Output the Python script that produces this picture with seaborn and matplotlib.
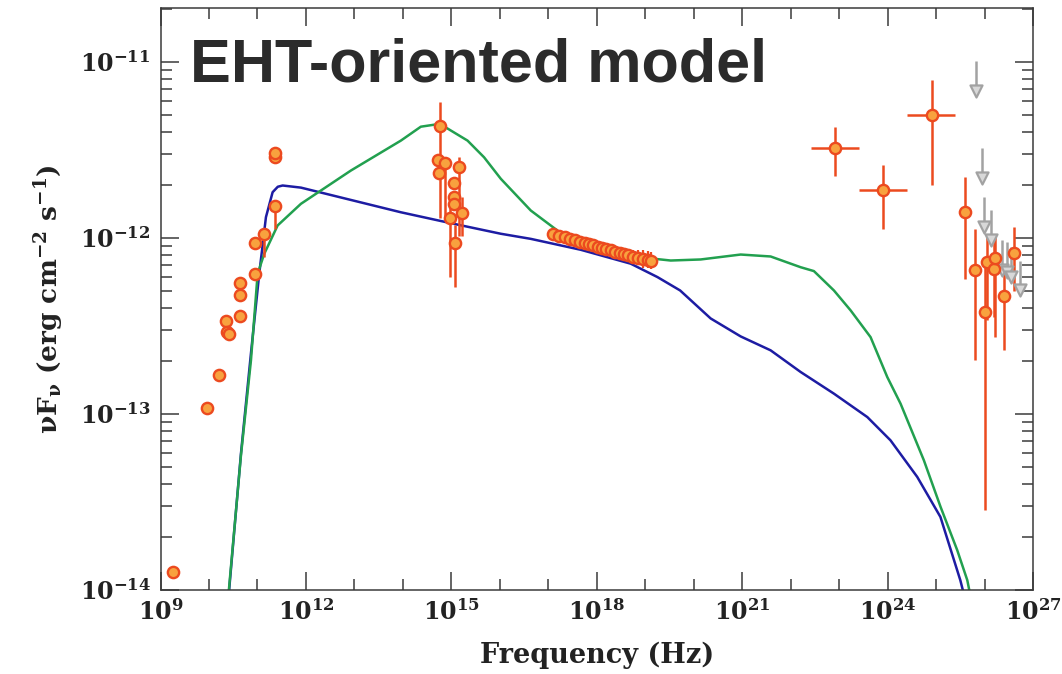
import numpy as np
import pandas as pd
import matplotlib
matplotlib.use("Agg")
import matplotlib.pyplot as plt
from matplotlib.ticker import FixedLocator, FuncFormatter, NullFormatter
import seaborn as sns

# ---- model curves (log10 nu [Hz], log10 nuFnu [erg cm^-2 s^-1]) ----
blue_lognu = [10.398, 10.660, 10.866, 11.037, 11.175, 11.313, 11.420, 11.520, 11.897, 13.959,
              14.990, 16.021, 16.639, 17.670, 18.701, 19.252, 19.72, 20.35, 20.969,
              21.587, 22.206, 22.893, 23.582, 24.06, 24.612, 25.09, 25.50, 25.71]
blue_logf = [-14.057, -13.225, -12.656, -12.204, -11.883, -11.741, -11.710, -11.703, -11.715, -11.855,
             -11.917, -11.977, -12.006, -12.068, -12.147, -12.223, -12.299, -12.458, -12.56,
             -12.639, -12.762, -12.885, -13.018, -13.150, -13.358, -13.585, -13.944, -14.17]

green_lognu = [10.392, 10.660, 10.866, 11.004, 11.140, 11.416, 11.897, 12.928, 13.959, 14.371,
               14.763, 15.334, 15.676, 16.021, 16.639, 17.326, 18.357, 19.113, 19.526, 20.144,
               20.969, 21.587, 22.206, 22.480, 22.893, 23.237, 23.649, 23.994, 24.268, 24.748,
               25.093, 25.437, 25.644, 25.81]
green_logf = [-14.057, -13.235, -12.696, -12.204, -12.091, -11.930, -11.807, -11.618, -11.448, -11.369,
              -11.353, -11.448, -11.543, -11.665, -11.845, -11.987, -12.082, -12.117, -12.129, -12.123,
              -12.095, -12.106, -12.167, -12.189, -12.299, -12.412, -12.564, -12.791, -12.942, -13.263,
              -13.528, -13.774, -13.944, -14.17]

# ---- radio / mm data ----
radio_lognu = [9.25, 9.95, 10.20, 10.36, 10.37, 10.41, 10.645, 10.645, 10.645, 10.95, 10.95, 11.14, 11.36, 11.36, 11.37]
radio_logf = [-13.90, -12.964, -12.777, -12.473, -12.537, -12.545, -12.255, -12.327, -12.445, -12.204, -12.028, -11.977, -11.82, -11.54, -11.52]
radio_lo = [-13.90, -12.964, -12.777, -12.473, -12.537, -12.545, -12.255, -12.327, -12.445, -12.204, -12.028, -12.11, -11.95, -11.54, -11.52]
radio_hi = [-13.90, -12.964, -12.777, -12.473, -12.537, -12.545, -12.255, -12.327, -12.445, -12.204, -12.028, -11.977, -11.82, -11.54, -11.52]

# ---- optical / UV data ----
opt_lognu = [14.763, 14.73, 14.87, 14.74, 15.16, 15.06, 15.06, 15.06, 15.21, 14.97, 15.08]
opt_logf = [-11.363, -11.556, -11.575, -11.63, -11.596, -11.69, -11.766, -11.807, -11.86, -11.887, -12.03]
opt_lo = [-11.885, -11.556, -11.885, -11.63, -11.99, -11.69, -11.766, -11.807, -11.99, -12.225, -12.282]
opt_hi = [-11.23, -11.556, -11.575, -11.63, -11.54, -11.69, -11.766, -11.807, -11.77, -11.83, -11.93]

# ---- X-ray spectrum ----
xray_lognu = [17.09, 17.22, 17.34, 17.45, 17.55, 17.65, 17.75, 17.84, 17.93, 18.02, 18.11,
              18.20, 18.29, 18.38, 18.47, 18.56, 18.65, 18.75, 18.85, 18.95, 19.05, 19.11]
xray_logf = [-11.977, -11.990, -11.996, -12.006, -12.012, -12.022, -12.027, -12.037, -12.042, -12.051, -12.056,
             -12.065, -12.070, -12.079, -12.084, -12.093, -12.098, -12.107, -12.112, -12.120, -12.124, -12.129]
xray_err = [0.0, 0.0, 0.0, 0.0, 0.0, 0.0, 0.0, 0.0, 0.0, 0.0, 0.0,
            0.0, 0.0, 0.0, 0.02, 0.03, 0.035, 0.04, 0.045, 0.05, 0.05, 0.05]

# ---- gamma-ray data with energy bins ----
gev_lognu = [22.907, 23.91, 24.907]
gev_logf = [-11.49, -11.728, -11.302]
gev_nu_lo = [22.41, 23.42, 24.406]
gev_nu_hi = [23.42, 24.406, 25.40]
gev_lo = [-11.647, -11.949, -11.698]
gev_hi = [-11.373, -11.584, -11.102]

# ---- TeV data ----
tev_lognu = [25.60, 25.81, 26.007, 26.06, 26.19, 26.21, 26.41, 26.61]
tev_logf = [-11.855, -12.18, -12.42, -12.138, -12.176, -12.116, -12.331, -12.087]
tev_lo = [-12.233, -12.696, -13.547, -12.469, -12.45, -12.564, -12.639, -12.30]
tev_hi = [-11.656, -11.949, -12.129, -11.997, -12.0, -11.977, -12.157, -11.94]

# ---- TeV upper limits ----
ul_lognu = [25.82, 25.94, 25.98, 26.13, 26.36, 26.46, 26.55, 26.73]
ul_logf = [-10.994, -11.49, -11.766, -11.84, -12.015, -12.025, -12.053, -12.129]

# ---- axis ticks ----
major_exp_x = [9, 12, 15, 18, 21, 24, 27]
major_exp_y = [-14, -13, -12, -11]

ORANGE = "#f8a23e"
RED = "#ec4a1f"
BLUE = "#1d1ca3"
GREEN = "#22a04f"
GREY = "#a2a2a2"

sns.set_theme(style="ticks")
plt.rcParams.update({
    "font.family": ["DejaVu Serif"],
    "font.weight": "bold",
    "axes.labelweight": "bold",
    "mathtext.fontset": "custom",
    "mathtext.rm": "DejaVu Serif:bold",
    "mathtext.bf": "DejaVu Serif:bold",
    "mathtext.it": "DejaVu Serif:bold:italic",
    "mathtext.default": "rm",
    "axes.edgecolor": "#3a3a3a",
    "axes.linewidth": 1.1,
})

fig = plt.figure(figsize=(10.62, 6.74), dpi=100)
ax = fig.add_axes([160.5 / 1062, 1 - 590 / 674, (1033 - 160.5) / 1062, (590 - 8) / 674])


def p(v):
    return 10.0 ** np.asarray(v, dtype=float)


# model curves
models = pd.concat([
    pd.DataFrame({"nu": p(blue_lognu), "flux": p(blue_logf), "model": "blue"}),
    pd.DataFrame({"nu": p(green_lognu), "flux": p(green_logf), "model": "green"}),
])
sns.lineplot(data=models, x="nu", y="flux", hue="model", palette={"blue": BLUE, "green": GREEN},
             sort=False, estimator=None, lw=1.8, legend=False, ax=ax, zorder=2)

ax.set_xscale("log")
ax.set_yscale("log")

# vertical error bars of the point data
for lg, lo, hi in [(radio_lognu, radio_lo, radio_hi), (opt_lognu, opt_lo, opt_hi),
                   (tev_lognu, tev_lo, tev_hi), (gev_lognu, gev_lo, gev_hi)]:
    ax.vlines(p(lg), p(lo), p(hi), color=RED, lw=1.8, zorder=3)

xr = np.asarray(xray_logf)
xe = np.asarray(xray_err)
ax.vlines(p(xray_lognu), p(xr - xe), p(xr + xe), color=RED, lw=1.6, zorder=3)

# energy bins of the gamma-ray points
ax.hlines(p(gev_logf), p(gev_nu_lo), p(gev_nu_hi), color=RED, lw=1.8, zorder=3)

# upper-limit arrows
ul_len = 0.17
ulf = np.asarray(ul_logf)
ax.vlines(p(ul_lognu), p(ulf - ul_len), p(ulf), color=GREY, lw=1.8, zorder=3)
sns.scatterplot(x=p(ul_lognu), y=p(ulf - ul_len), marker="v", s=75, color="#d8d8d8",
                edgecolor=GREY, linewidth=1.6, ax=ax, zorder=4)

# data points
pts = pd.DataFrame({
    "nu": p(radio_lognu + opt_lognu + xray_lognu + gev_lognu + tev_lognu),
    "flux": p(radio_logf + opt_logf + xray_logf + gev_logf + tev_logf),
})
sns.scatterplot(data=pts, x="nu", y="flux", s=66, color=ORANGE, edgecolor=RED,
                linewidth=1.7, ax=ax, zorder=5)

ax.set_xlim(1e9, 1e27)
ax.set_ylim(1e-14, 10 ** -10.695)

ax.xaxis.set_major_locator(FixedLocator([10.0 ** e for e in major_exp_x]))
ax.xaxis.set_minor_locator(FixedLocator([10.0 ** e for e in range(9, 28)]))
ax.xaxis.set_minor_formatter(NullFormatter())
ax.xaxis.set_major_formatter(FuncFormatter(lambda v, pos: r"$10^{%d}$" % round(np.log10(v))))

ax.yaxis.set_major_locator(FixedLocator([10.0 ** e for e in major_exp_y]))
ax.yaxis.set_minor_locator(FixedLocator([m * 10.0 ** e for e in major_exp_y for m in range(2, 10)]))
ax.yaxis.set_minor_formatter(NullFormatter())
ax.yaxis.set_major_formatter(FuncFormatter(lambda v, pos: r"$10^{%d}$" % round(np.log10(v))))

ax.tick_params(which="both", direction="in", top=True, right=True, colors="#3a3a3a",
               labelcolor="#222222", labelsize=17)
ax.tick_params(which="major", length=13, width=1.1, pad=7)
ax.tick_params(which="minor", length=8, width=1.1)

ax.set_xlabel("Frequency (Hz)", fontsize=19.5, fontweight="bold", color="#222222", labelpad=12)
ax.set_ylabel(r"$\nu\mathrm{F}_\nu\ \mathrm{(erg\ cm^{-2}\ s^{-1})}$", fontsize=19,
              color="#222222", labelpad=10)

fig.text(190 / 1062, 1 - 82 / 674, "EHT-oriented model", fontsize=44, fontweight="bold",
         family="Liberation Sans", color="#2b2b2b", va="baseline", ha="left")

fig.savefig("out.png", dpi=100)
